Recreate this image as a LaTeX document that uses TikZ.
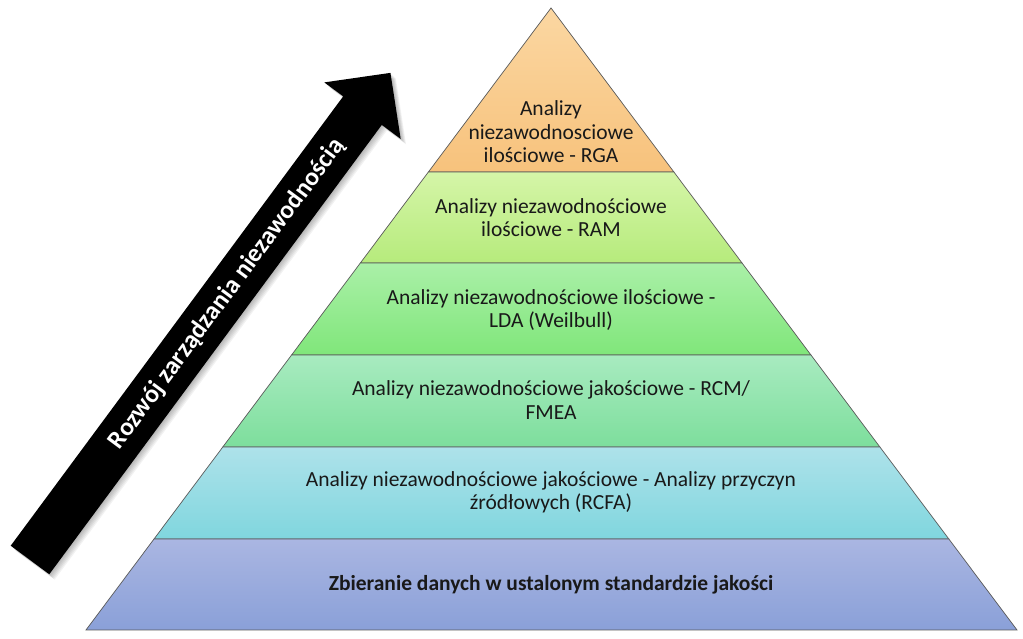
\documentclass[tikz,border=0pt]{standalone}
\usepackage{fontspec}
\setmainfont{Carlito}
\usetikzlibrary{calc}
\definecolor{c1a}{HTML}{FBD7A2}
\definecolor{c1b}{HTML}{F7C27C}
\definecolor{c2a}{HTML}{D5F5A8}
\definecolor{c2b}{HTML}{B6EB7C}
\definecolor{c3a}{HTML}{AAF0A8}
\definecolor{c3b}{HTML}{80E67A}
\definecolor{c4a}{HTML}{A8EBC0}
\definecolor{c4b}{HTML}{7DDE9C}
\definecolor{c5a}{HTML}{AEE2EA}
\definecolor{c5b}{HTML}{80D6DE}
\definecolor{c6a}{HTML}{AAB6E2}
\definecolor{c6b}{HTML}{8AA0D8}
\begin{document}
\begin{tikzpicture}[x=1pt,y=1pt,
  layer/.style={draw=black!65, line width=0.7pt},
  lbl/.style={align=center, font=\fontsize{21.5}{23.5}\selectfont, text=black!90, inner sep=0pt},
  arrowlbl/.style={font=\bfseries\fontsize{25.5}{28}\selectfont, text=white, inner sep=0pt},
]
\useasboundingbox (0,0) rectangle (1023,639);
\coordinate (apex) at (551,631);
\coordinate (L6) at (86,9);
\coordinate (R6) at (1017,9);
\foreach \t/\n in {0.2637/1,0.41/2,0.5579/3,0.7058/4,0.8537/5}{
  \coordinate (L\n) at ($(apex)!\t!(L6)$);
  \coordinate (R\n) at ($(apex)!\t!(R6)$);
}
\shadedraw[layer, top color=c1a, bottom color=c1b] (apex) -- (L1) -- (R1) -- cycle;
\shadedraw[layer, top color=c2a, bottom color=c2b] (L1) -- (L2) -- (R2) -- (R1) -- cycle;
\shadedraw[layer, top color=c3a, bottom color=c3b] (L2) -- (L3) -- (R3) -- (R2) -- cycle;
\shadedraw[layer, top color=c4a, bottom color=c4b] (L3) -- (L4) -- (R4) -- (R3) -- cycle;
\shadedraw[layer, top color=c5a, bottom color=c5b] (L4) -- (L5) -- (R5) -- (R4) -- cycle;
\shadedraw[layer, top color=c6a, bottom color=c6b] (L5) -- (L6) -- (R6) -- (R5) -- cycle;

\node[lbl] (t1) at (551,507) {Analizy\\niezawodnosciowe\\ilościowe - RGA};
\node[lbl] (t2) at (551,421.5) {Analizy niezawodnościowe\\ilościowe - RAM};
\node[lbl] (t3) at (551,329) {Analizy niezawodnościowe ilościowe -\\LDA (Weilbull)};
\node[lbl] (t4) at (551,239) {Analizy niezawodnościowe jakościowe - RCM/\\FMEA};
\node[lbl] (t5) at (551,146.5) {Analizy niezawodnościowe jakościowe - Analizy przyczyn\\źródłowych (RCFA)};
\node[lbl, font=\bfseries\fontsize{21.5}{23.5}\selectfont] (t6) at (551,54) {Zbieranie danych w ustalonym standardzie jakości};

\def\arrowpath{(0,-24) -- (559,-24) -- (559,-47.5) -- (606,0) -- (559,47.5) -- (559,24) -- (0,24) -- cycle}
\foreach \d in {1,2,3,4,5,6}{
  \begin{scope}[shift={(30+0.9*\d,79-0.9*\d)}, rotate=53.5]
    \fill[black, opacity=0.05] \arrowpath;
  \end{scope}
}
\begin{scope}[shift={(30,79)}, rotate=53.5]
  \fill[black] \arrowpath;
  \node[arrowlbl, rotate=53.5] (arrlbl) at (331,0) {Rozwój zarządzania niezawodnością};
\end{scope}
\end{tikzpicture}
\end{document}
